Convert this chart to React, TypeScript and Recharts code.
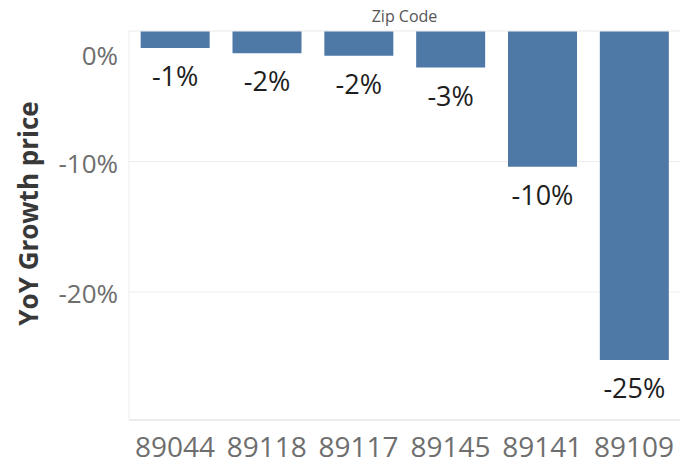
import React from 'react';
import { BarChart, Bar, XAxis, YAxis, CartesianGrid, LabelList, ReferenceLine } from 'recharts';

// values (percent YoY growth)
const zipCodes = ['89044', '89118', '89117', '89145', '89141', '89109'];
const yoyGrowth = [-1.3, -1.7, -1.9, -2.8, -10.4, -25.2];
const yTicks = [0, -10, -20];

const data = zipCodes.map((zip, i) => ({ zip, growth: yoyGrowth[i] }));

const FONT = '"Open Sans", "DejaVu Sans", sans-serif';

const YTick = (props: any) => {
    const { y, payload } = props;
    // Tableau pushes the 0% label down so it stays inside the pane
    const shift = payload.value === 0 ? 25 : 2;
    return (
        <text x={118} y={y + shift} dy="0.35em" textAnchor="end" fill="#6e6e6e" fontSize={26} fontFamily={FONT}>
            {`${payload.value}%`}
        </text>
    );
};

const XTick = (props: any) => {
    const { x, y, payload } = props;
    return (
        <text x={x} y={y} dy={37} textAnchor="middle" fill="#6e6e6e" fontSize={28} fontFamily={FONT}>
            {payload.value}
        </text>
    );
};

const BarLabel = (props: any) => {
    const { x, y, width, height, value } = props;
    const bottom = Math.max(y, y + height);
    return (
        <text x={x + width / 2} y={bottom + 38} textAnchor="middle" fill="#1e1e1e" fontSize={27} fontFamily={FONT}>
            {`${Math.round(value)}%`}
        </text>
    );
};

const AxisTitle = (props: any) => {
    const { viewBox } = props;
    const cx = viewBox.x + 28;
    const cy = viewBox.y + viewBox.height / 2 - 12;
    return (
        <text x={cx} y={cy} transform={`rotate(-90, ${cx}, ${cy})`} textAnchor="middle" dominantBaseline="central"
            fill="#383838" fontSize={26} fontWeight="bold" fontFamily={FONT}>
            YoY Growth price
        </text>
    );
};

export default function App() {
    return (
        <div style={{ position: 'absolute', left: 0, top: 0, background: '#fff' }}>
            <BarChart width={691} height={464} data={data} margin={{ top: 31, right: 11, bottom: 0, left: 0 }}
                barCategoryGap="12.7%">
                <CartesianGrid vertical={false} stroke="#ededed" />
                <XAxis dataKey="zip" axisLine={{ stroke: '#e2e2e2' }} tickLine={false} tickSize={0} tickMargin={0}
                    height={44} tick={<XTick />} interval={0} />
                <YAxis domain={[-29.8, 0]} ticks={yTicks} width={129} axisLine={{ stroke: '#ececec' }} tickLine={false}
                    tick={<YTick />} label={{ content: <AxisTitle /> }} />
                <ReferenceLine y={0} stroke="#f2f2f2"
                    label={{ value: 'Zip Code', position: 'top', offset: 9, fill: '#555', fontSize: 16, fontFamily: FONT }} />
                <Bar dataKey="growth" fill="#4e79a7" isAnimationActive={false}>
                    <LabelList dataKey="growth" content={<BarLabel />} />
                </Bar>
            </BarChart>
        </div>
    );
}
